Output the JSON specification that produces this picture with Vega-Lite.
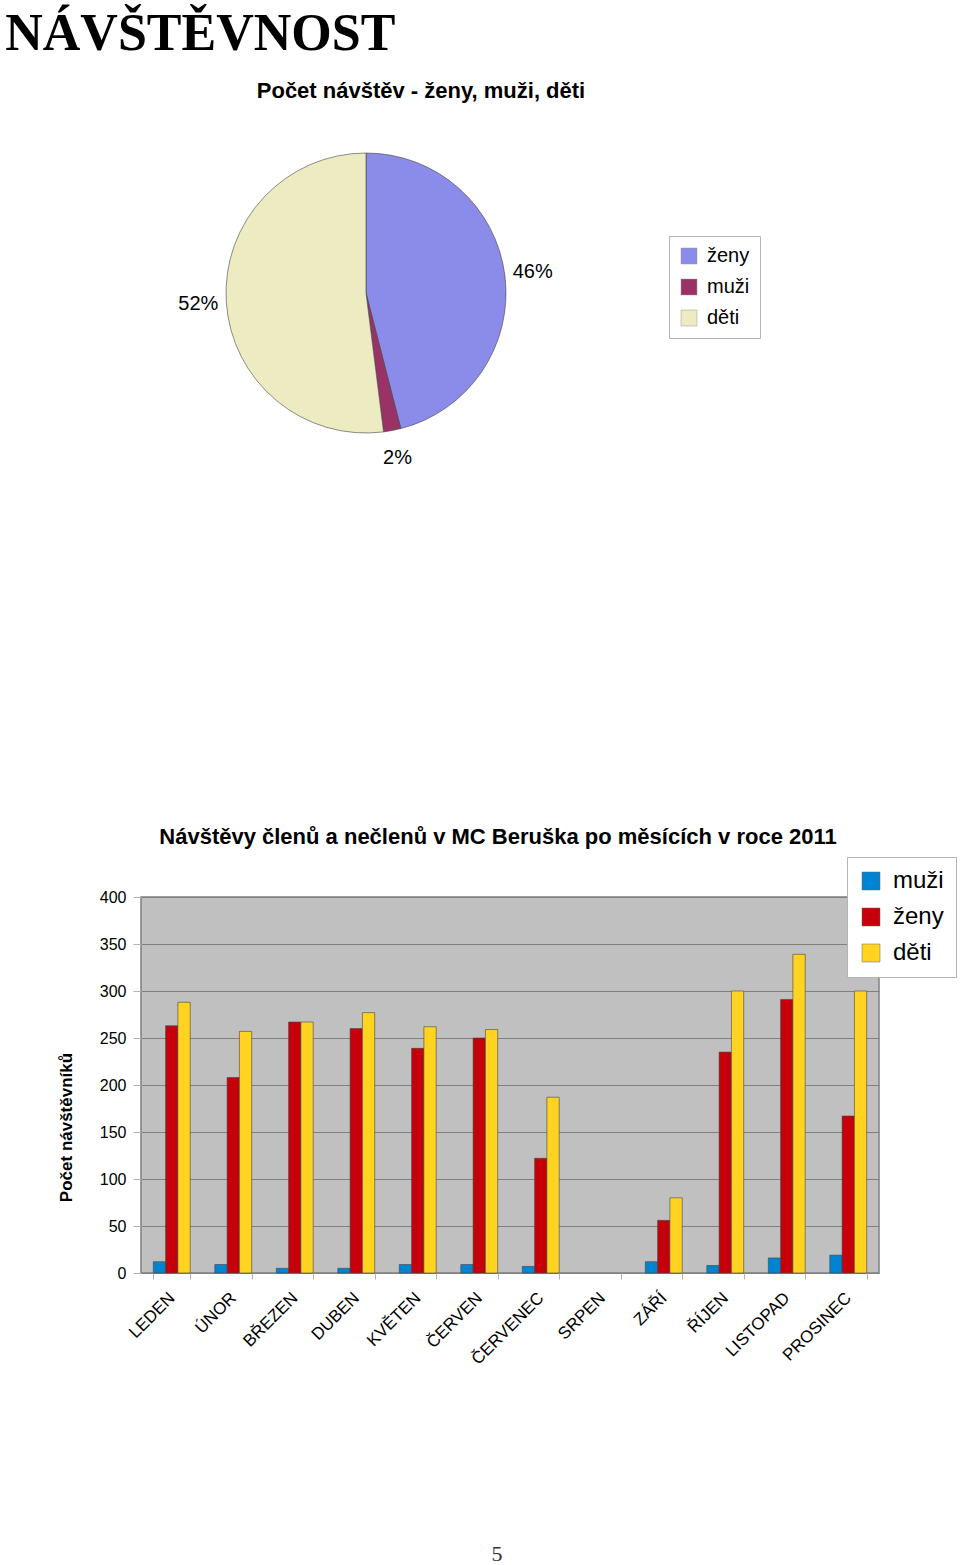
{
  "$schema": "https://vega.github.io/schema/vega-lite/v6.json",
  "background": "white",
  "padding": {"left": 5, "top": 8, "right": 0, "bottom": 0},
  "autosize": {"type": "pad"},
  "title": {"text": "NÁVŠTĚVNOST", "font": "Liberation Serif", "fontSize": 52, "fontWeight": "bold", "color": "black", "anchor": "start", "dx": -51, "offset": 19},
  "config": {"view": {"stroke": null}, "font": "Liberation Sans"},
  "datasets": {
    "pie": [
      {"skupina": "ženy", "podil": 46, "popisek": "46%", "poradi": 1},
      {"skupina": "muži", "podil": 2, "popisek": "2%", "poradi": 2},
      {"skupina": "děti", "podil": 52, "popisek": "52%", "poradi": 3}
    ],
    "mesice": [
      {"mesic": "LEDEN", "skupina": "muži", "pocet": 12},
      {"mesic": "LEDEN", "skupina": "ženy", "pocet": 263},
      {"mesic": "LEDEN", "skupina": "děti", "pocet": 288},
      {"mesic": "ÚNOR", "skupina": "muži", "pocet": 9},
      {"mesic": "ÚNOR", "skupina": "ženy", "pocet": 208},
      {"mesic": "ÚNOR", "skupina": "děti", "pocet": 257},
      {"mesic": "BŘEZEN", "skupina": "muži", "pocet": 5},
      {"mesic": "BŘEZEN", "skupina": "ženy", "pocet": 267},
      {"mesic": "BŘEZEN", "skupina": "děti", "pocet": 267},
      {"mesic": "DUBEN", "skupina": "muži", "pocet": 5},
      {"mesic": "DUBEN", "skupina": "ženy", "pocet": 260},
      {"mesic": "DUBEN", "skupina": "děti", "pocet": 277},
      {"mesic": "KVĚTEN", "skupina": "muži", "pocet": 9},
      {"mesic": "KVĚTEN", "skupina": "ženy", "pocet": 239},
      {"mesic": "KVĚTEN", "skupina": "děti", "pocet": 262},
      {"mesic": "ČERVEN", "skupina": "muži", "pocet": 9},
      {"mesic": "ČERVEN", "skupina": "ženy", "pocet": 250},
      {"mesic": "ČERVEN", "skupina": "děti", "pocet": 259},
      {"mesic": "ČERVENEC", "skupina": "muži", "pocet": 7},
      {"mesic": "ČERVENEC", "skupina": "ženy", "pocet": 122},
      {"mesic": "ČERVENEC", "skupina": "děti", "pocet": 187},
      {"mesic": "SRPEN", "skupina": "muži", "pocet": 0},
      {"mesic": "SRPEN", "skupina": "ženy", "pocet": 0},
      {"mesic": "SRPEN", "skupina": "děti", "pocet": 0},
      {"mesic": "ZÁŘÍ", "skupina": "muži", "pocet": 12},
      {"mesic": "ZÁŘÍ", "skupina": "ženy", "pocet": 56},
      {"mesic": "ZÁŘÍ", "skupina": "děti", "pocet": 80},
      {"mesic": "ŘÍJEN", "skupina": "muži", "pocet": 8},
      {"mesic": "ŘÍJEN", "skupina": "ženy", "pocet": 235},
      {"mesic": "ŘÍJEN", "skupina": "děti", "pocet": 300},
      {"mesic": "LISTOPAD", "skupina": "muži", "pocet": 16},
      {"mesic": "LISTOPAD", "skupina": "ženy", "pocet": 291},
      {"mesic": "LISTOPAD", "skupina": "děti", "pocet": 339},
      {"mesic": "PROSINEC", "skupina": "muži", "pocet": 19},
      {"mesic": "PROSINEC", "skupina": "ženy", "pocet": 167},
      {"mesic": "PROSINEC", "skupina": "děti", "pocet": 300}
    ],
    "strana": [{"cislo": "5"}]
  },
  "resolve": {"scale": {"color": "independent"}, "legend": {"color": "independent"}},
  "spacing": 175,
  "vconcat": [
    {
      "resolve": {"scale": {"color": "independent"}, "legend": {"color": "independent"}},
      "spacing": 351,
      "vconcat": [
        {
          "width": 450,
          "height": 360,
          "title": {"text": "Počet návštěv - ženy, muži, děti", "fontSize": 22, "fontWeight": "bold", "color": "black", "anchor": "middle", "dx": 55, "offset": 10},
          "data": {"name": "pie"},
          "encoding": {
            "theta": {"field": "podil", "type": "quantitative", "stack": true},
            "order": {"field": "poradi", "type": "quantitative"}
          },
          "layer": [
            {
              "mark": {"type": "arc", "outerRadius": 140, "stroke": "#444444", "strokeWidth": 0.6},
              "encoding": {
                "color": {
                  "field": "skupina", "type": "nominal",
                  "scale": {"domain": ["ženy", "muži", "děti"], "range": ["#8b8be9", "#993366", "#ecebc2"]},
                  "legend": {
                    "title": null, "orient": "none", "legendX": 528, "legendY": 123,
                    "symbolType": "square", "symbolSize": 256, "symbolStrokeColor": "#999999", "symbolStrokeWidth": 0.5,
                    "labelFontSize": 20, "labelColor": "black", "labelFont": "Liberation Sans",
                    "fillColor": "white", "strokeColor": "#b3b3b3", "padding": 10, "rowPadding": 11, "labelOffset": 8
                  }
                }
              }
            },
            {
              "mark": {"type": "text", "radius": 168, "fontSize": 20, "color": "black"},
              "encoding": {"text": {"field": "popisek", "type": "nominal"}}
            }
          ]
        },
        {
          "width": 738,
          "height": 376,
          "view": {"fill": "#c0c0c0", "stroke": "#808080", "strokeWidth": 1.5},
          "title": {"text": "Návštěvy členů a nečlenů v MC Beruška po měsících v roce 2011", "fontSize": 22, "fontWeight": "bold", "color": "black", "anchor": "middle", "dx": -12, "offset": 8},
          "data": {"name": "mesice"},
          "mark": {"type": "bar", "stroke": "#444444", "strokeWidth": 0.6},
          "encoding": {
            "x": {
              "field": "mesic", "type": "nominal",
              "sort": ["LEDEN", "ÚNOR", "BŘEZEN", "DUBEN", "KVĚTEN", "ČERVEN", "ČERVENEC", "SRPEN", "ZÁŘÍ", "ŘÍJEN", "LISTOPAD", "PROSINEC"],
              "scale": {"paddingInner": 0.4, "paddingOuter": 0.2},
              "axis": {
                "title": null, "labelAngle": -45, "labelAlign": "right", "labelBaseline": "middle",
                "labelFontSize": 17, "labelColor": "black", "labelPadding": 16,
                "tickBand": "extent", "tickColor": "#b3b3b3", "tickSize": 6, "domain": false
              }
            },
            "xOffset": {
              "field": "skupina", "type": "nominal",
              "sort": ["muži", "ženy", "děti"],
              "scale": {"paddingInner": 0, "paddingOuter": 0}
            },
            "y": {
              "field": "pocet", "type": "quantitative",
              "scale": {"domain": [0, 400]},
              "axis": {
                "title": "Počet návštěvníků", "titleFontSize": 17, "titleFontWeight": "bold", "titleColor": "black",
                "titleX": -75, "titleY": 230, "titleAngle": -90, "titleAlign": "center", "titleBaseline": "middle",
                "values": [0, 50, 100, 150, 200, 250, 300, 350, 400],
                "labelFontSize": 16, "labelColor": "black", "labelPadding": 7,
                "tickColor": "#b3b3b3", "tickSize": 8,
                "grid": true, "gridColor": "#808080", "gridWidth": 1, "domain": false
              }
            },
            "strokeOpacity": {"condition": {"test": "datum.pocet > 0", "value": 1}, "value": 0},
            "color": {
              "field": "skupina", "type": "nominal",
              "scale": {"domain": ["muži", "ženy", "děti"], "range": ["#0084d1", "#c5000b", "#ffd320"]},
              "legend": {
                "title": null, "orient": "none", "legendX": 706, "legendY": -40,
                "symbolType": "square", "symbolSize": 324, "symbolStrokeColor": "#666666", "symbolStrokeWidth": 0.5,
                "labelFontSize": 24, "labelColor": "black", "labelFont": "Liberation Sans",
                "fillColor": "white", "strokeColor": "#b3b3b3", "padding": 12, "rowPadding": 12, "labelOffset": 10
              }
            }
          }
        }
      ]
    },
    {
      "width": 712,
      "height": 20,
      "data": {"name": "strana"},
      "mark": {"type": "text", "font": "Liberation Serif", "fontSize": 22, "color": "#333333", "baseline": "middle"},
      "encoding": {"text": {"field": "cislo", "type": "nominal"}}
    }
  ]
}
